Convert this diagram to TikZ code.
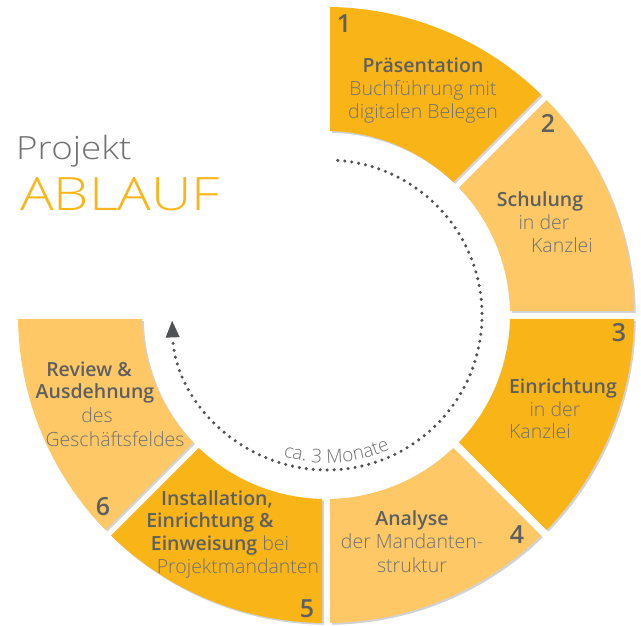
\documentclass[tikz,border=0pt]{standalone}
\usepackage{fontspec}
\usetikzlibrary{arrows.meta,decorations.text}
\setmainfont{Open Sans}
\IfFontExistsTF{Open Sans Light}{\newfontfamily\lightf{Open Sans Light}}{\newfontfamily\lightf{Open Sans}}
\IfFontExistsTF{Open Sans SemiBold}{\newfontfamily\semif{Open Sans SemiBold}}{%
  \IfFontExistsTF{Open Sans Semibold}{\newfontfamily\semif{Open Sans Semibold}}{\newcommand\semif{\normalfont\bfseries}}}
\definecolor{segdark}{HTML}{F9B418}
\definecolor{seglight}{HTML}{FDC865}
\definecolor{txtb}{HTML}{5E5F61}
\definecolor{txtl}{HTML}{707173}
\definecolor{shad}{HTML}{D2D2D2}
\definecolor{ttlorange}{HTML}{FAB619}
\definecolor{dotc}{HTML}{505153}
\newcommand\ringseg[3]{%
  \pgfmathsetmacro\oa{#1-0.744}\pgfmathsetmacro\ob{#2+0.744}%
  \pgfmathsetmacro\ia{#1-1.246}\pgfmathsetmacro\ib{#2+1.246}%
  \fill[shad, shift={(1.8pt,-1.8pt)}] (\ia:184pt) -- (\oa:308pt) arc[start angle=\oa, end angle=\ob, radius=308pt] -- (\ib:184pt) arc[start angle=\ib, end angle=\ia, radius=184pt] -- cycle;
  \fill[#3] (\ia:184pt) -- (\oa:308pt) arc[start angle=\oa, end angle=\ob, radius=308pt] -- (\ib:184pt) arc[start angle=\ib, end angle=\ia, radius=184pt] -- cycle;
}
\tikzset{
  lbl/.style={anchor=base, inner sep=0pt, text=txtl, font=\lightf\fontsize{19.5}{22}\selectfont},
  lblb/.style={anchor=base, inner sep=0pt, text=txtb, font=\semif\fontsize{19.5}{22}\selectfont},
  num/.style={anchor=base, inner sep=0pt, text=txtb, font=\semif\fontsize{25}{28}\selectfont},
  dotline/.style={draw=dotc, line width=3.4pt, line cap=round, dash pattern=on 0pt off 7pt},
}
\begin{document}
\begin{tikzpicture}[x=1pt,y=1pt]
\useasboundingbox (0,0) rectangle (641,626);
\fill[white] (0,0) rectangle (641,626);
% ring
\begin{scope}[shift={(326pt,311pt)}]
  \ringseg{90}{45}{segdark}
  \ringseg{45}{0}{seglight}
  \ringseg{0}{-45}{segdark}
  \ringseg{-45}{-90}{seglight}
  \ringseg{-90}{-135}{segdark}
  \ringseg{-135}{-180}{seglight}
\end{scope}
% dotted arrow arc
\begin{scope}[shift={(327pt,311pt)}]
  \coordinate (arcstart) at (86:155pt);
  \draw[dotline, -{Triangle[length=17pt,width=13pt,fill=dotc]}] (arcstart) arc[start angle=86, end angle=-178, radius=155pt] coordinate (arcend);
  \path[decorate, decoration={text along path, text align=center,
     text={|\lightf\fontsize{19}{20}\selectfont\color{txtl}|ca. 3 Monate}}]
     (-125:148pt) arc[start angle=-125, end angle=-47, radius=148pt];
\end{scope}
% title
\node[anchor=base west, inner sep=0pt, text=txtl, font=\lightf\fontsize{32}{36}\selectfont] (ttl1) at (16,466) {\scalebox{1.15}[1]{Projekt}};
\node[anchor=base west, inner sep=0pt, text=ttlorange, font=\lightf\fontsize{46}{50}\selectfont] (ttl2) at (20,415) {\scalebox{1.22}[1]{ABLAUF}};
% segment 1
\node[num] (n1) at (344,593) {1};
\node[lblb] (s1a) at (423,553) {Präsentation};
\node[lbl] (s1b) at (423,530) {Buchführung mit};
\node[lbl] (s1c) at (423,507) {digitalen Belegen};
% segment 2
\node[num] (n2) at (548,493) {2};
\node[lblb] (s2a) at (540,419) {Schulung};
\node[lbl] (s2b) at (544,396) {in der};
\node[lbl] (s2c) at (562,373) {Kanzlei};
% segment 3
\node[num] (n3) at (619,284) {3};
\node[lblb] (s3a) at (563,232) {Einrichtung};
\node[lbl] (s3b) at (555,209) {in der};
\node[lbl] (s3c) at (540,187) {Kanzlei};
% segment 4
\node[num] (n4) at (517,82) {4};
\node[lblb] (s4a) at (412,100) {Analyse};
\node[lbl] (s4b) at (412,77) {der Mandanten-};
\node[lbl] (s4c) at (412,53) {struktur};
% segment 5
\node[num] (n5) at (307,8) {5};
\node[lblb] (s5a) at (217,120) {Installation,};
\node[lblb] (s5b) at (210,98) {Einrichtung \&};
\node[lbl] (s5c) at (220,75) {{\semif\color{txtb}Einweisung} bei};
\node[lbl] (s5d) at (238,52) {Projektmandanten};
% segment 6
\node[num] (n6) at (103,110) {6};
\node[lblb] (s6a) at (89,249) {Review \&};
\node[lblb] (s6b) at (95,227) {Ausdehnung};
\node[lbl] (s6c) at (97,203) {des};
\node[lbl] (s6d) at (115,179) {Geschäftsfeldes};
\end{tikzpicture}
\end{document}
